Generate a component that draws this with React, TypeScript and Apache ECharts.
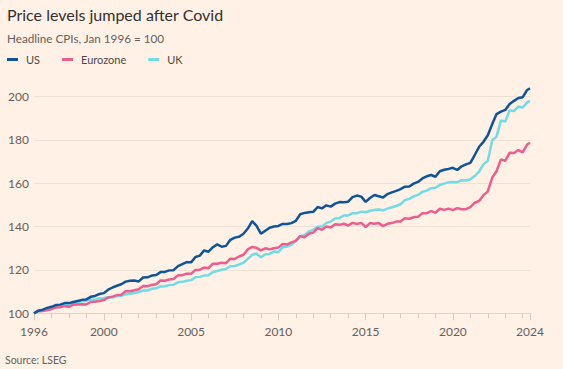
import React, { useEffect, useRef } from "react";
import * as echarts from "echarts";

// Quarterly observation months (Jan, Apr, Jul, Oct) from Jan 1996, plus the last month shown
const dates: string[] = [];
for (let y = 1996; y <= 2024; y++) {
  for (const m of [1, 4, 7, 10]) {
    if (y === 2024 && m > 4) break;
    dates.push(`${y}-${String(m).padStart(2, "0")}`);
  }
}
dates.push("2024-06");

// Headline CPI, Jan 1996 = 100
const us = [
  100.0, 101.2, 101.7, 102.5,
  103.0, 103.8, 104.0, 104.7,
  104.7, 105.2, 105.7, 106.2,
  106.4, 107.6, 108.0, 108.9,
  109.3, 110.9, 111.9, 112.7,
  113.4, 114.6, 115.0, 115.1,
  114.7, 116.5, 116.6, 117.4,
  117.7, 119.0, 119.1, 119.8,
  119.9, 121.8, 122.7, 123.6,
  123.5, 126.0, 126.6, 129.0,
  128.4, 130.5, 131.8, 130.7,
  131.1, 133.9, 134.9, 135.3,
  136.7, 139.1, 142.5, 140.3,
  136.7, 138.1, 139.5, 140.0,
  140.3, 141.2, 141.2, 141.6,
  142.6, 145.7, 146.3, 146.6,
  146.8, 149.0, 148.4, 149.8,
  149.2, 150.6, 151.3, 151.2,
  151.5, 153.6, 154.3, 153.8,
  151.4, 153.2, 154.6, 154.0,
  153.4, 155.0, 155.8, 156.5,
  157.3, 158.4, 158.5, 159.8,
  160.6, 162.2, 163.2, 163.8,
  163.0, 165.5, 166.2, 166.6,
  167.1, 166.1, 167.8, 168.7,
  169.4, 173.0, 176.8, 179.1,
  182.1, 187.2, 191.9, 193.0,
  193.8, 196.5, 198.0, 199.3,
  199.7, 203.0, 203.7,
];

const eurozone = [
  100.0, 101.1, 101.1, 101.5,
  101.9, 102.7, 102.8, 103.3,
  103.0, 104.0, 104.1, 104.2,
  104.1, 105.2, 105.3, 105.7,
  106.1, 107.3, 107.7, 108.4,
  108.6, 110.2, 110.2, 110.6,
  111.1, 112.6, 112.5, 113.1,
  113.4, 115.1, 115.0, 115.6,
  115.8, 117.5, 117.6, 118.3,
  118.2, 120.0, 120.1, 121.1,
  120.8, 122.9, 122.9, 123.3,
  123.1, 125.2, 125.1, 126.2,
  127.0, 129.5, 130.6, 130.2,
  129.0, 130.0, 129.5, 130.0,
  130.3, 132.0, 131.7, 132.7,
  133.4, 135.6, 135.1, 136.7,
  137.2, 139.3, 138.5, 140.0,
  139.6, 141.1, 140.8, 141.3,
  140.5, 141.7, 141.2, 141.7,
  139.8, 141.6, 141.3, 141.6,
  140.2, 141.3, 141.6, 142.3,
  142.3, 143.8, 143.6, 144.3,
  144.5, 146.1, 146.2, 147.1,
  146.4, 148.2, 147.7, 148.3,
  147.6, 148.5, 148.0, 148.0,
  149.0, 151.0, 151.8, 154.5,
  156.2, 162.5, 165.5, 171.0,
  170.3, 174.0, 173.9, 175.3,
  174.2, 177.8, 178.7,
];

const uk = [
  100.0, 100.9, 101.2, 101.8,
  102.2, 102.9, 103.3, 103.7,
  104.0, 104.9, 105.1, 105.6,
  105.7, 106.4, 106.3, 106.9,
  107.1, 107.4, 107.3, 107.9,
  108.1, 108.8, 109.0, 109.4,
  109.8, 110.5, 110.5, 111.3,
  111.5, 112.4, 112.5, 113.0,
  113.2, 114.3, 114.5, 115.0,
  115.3, 116.6, 116.8, 117.4,
  117.6, 119.0, 119.5, 120.1,
  120.5, 121.7, 121.8, 122.5,
  123.3, 125.1, 127.0, 127.6,
  125.8, 127.2, 127.4, 128.5,
  128.2, 130.5, 130.8, 131.6,
  133.4, 135.7, 136.0, 137.8,
  138.5, 139.9, 140.0, 141.7,
  142.3, 143.7, 143.9, 145.1,
  145.1, 146.2, 146.2, 146.9,
  146.6, 147.3, 147.6, 147.9,
  147.5, 148.3, 148.9, 149.5,
  150.3, 152.2, 152.8, 153.9,
  154.6, 156.0, 156.6, 157.7,
  157.9, 159.2, 159.8, 160.4,
  160.6, 160.5, 161.4, 161.2,
  161.8, 163.3, 165.4, 168.7,
  170.4, 179.7, 181.5, 188.9,
  188.5, 193.6, 193.3, 195.3,
  194.9, 197.3, 198.0,
];

const seriesNames = ["US", "Eurozone", "UK"];
const seriesColors = ["#0f5499", "#eb5e8d", "#70dce6"];
const yTicks = [100, 120, 140, 160, 180, 200];
const xLabelYears = [1996, 2000, 2005, 2010, 2015, 2020];
const lastLabel = "2024";

const FONT = "Lato, 'Noto Sans', sans-serif";
const toYear = (d: string) => {
  const [y, m] = d.split("-").map(Number);
  return y + (m - 1) / 12;
};

export default function App() {
  const ref = useRef<HTMLDivElement>(null);
  useEffect(() => {
    const chart = echarts.init(ref.current!, null, { renderer: "svg" });
    const xs = dates.map(toYear);
    const xMin = xs[0];
    const xMax = xs[xs.length - 1];
    const yearTicks: number[] = [];
    for (let y = 1996; y <= 2024; y++) yearTicks.push(y);
    yearTicks.push(xMax);
    const pairs = (vals: number[]) => xs.map((x, i) => [x, vals[i]]);
    const allVals = [us, eurozone, uk];

    chart.setOption({
      animation: false,
      backgroundColor: "#fff1e5",
      textStyle: { fontFamily: FONT },
      grid: { left: 34, right: 33, top: 96.5, bottom: 55.7 },
      legend: {
        data: seriesNames,
        left: 2,
        top: 49,
        icon: "rect",
        itemWidth: 11,
        itemHeight: 3,
        itemGap: 22,
        selectedMode: false,
        textStyle: { fontSize: 11, color: "#4e4946", fontFamily: FONT, padding: [0, 0, 0, 3] },
      },
      xAxis: [
        {
          type: "value",
          min: xMin,
          max: xMax,
          axisLine: { show: true, lineStyle: { color: "#e2d4c8", width: 1 } },
          axisTick: { show: true, customValues: yearTicks, length: 5, lineStyle: { color: "#d7c9bd" } },
          axisLabel: {
            customValues: [...xLabelYears, xMax],
            formatter: (v: number) => (v > 2024.05 ? lastLabel : String(Math.round(v))),
            color: "#66605c",
            fontSize: 12,
            margin: 12,
            fontFamily: FONT,
          },
          splitLine: { show: false },
        },
        {
          type: "value",
          min: xMin,
          max: xMax,
          position: "bottom",
          axisLine: { show: false },
          axisTick: { show: true, customValues: [...xLabelYears, xMax], length: 7, lineStyle: { color: "#d7c9bd" } },
          axisLabel: { show: false },
          splitLine: { show: false },
        },
      ],
      yAxis: {
        type: "value",
        min: yTicks[0],
        max: yTicks[yTicks.length - 1],
        interval: 20,
        axisLine: { show: false },
        axisTick: { show: false },
        axisLabel: { color: "#66605c", fontSize: 12, margin: 5, fontFamily: FONT },
        splitLine: { lineStyle: { color: "#efe1d5", width: 1 } },
      },
      series: seriesNames.map((name, i) => ({
        name,
        type: "line",
        xAxisIndex: 0,
        data: pairs(allVals[i]),
        showSymbol: false,
        symbol: "none",
        clip: false,
        color: seriesColors[i],
        lineStyle: { width: 2.5, color: seriesColors[i] },
        emphasis: { disabled: true },
        z: 3 - i,
      })),
      graphic: [
        {
          type: "text",
          x: 7,
          y: 14,
          style: {
            text: "Price levels jumped after Covid",
            font: `16px ${FONT}`,
            fill: "#33302e",
            verticalAlign: "middle",
          },
        },
        {
          type: "text",
          x: 7,
          y: 38,
          style: {
            text: "Headline CPIs, Jan 1996 = 100",
            font: `11.7px ${FONT}`,
            fill: "#66605c",
            verticalAlign: "middle",
          },
        },
        {
          type: "text",
          x: 5,
          y: 360,
          style: {
            text: "Source: LSEG",
            font: `10.5px ${FONT}`,
            fill: "#66605c",
            verticalAlign: "middle",
          },
        },
      ],
    });
    return () => chart.dispose();
  }, []);
  return (
    <div
      ref={ref}
      style={{ position: "fixed", left: 0, top: 0, width: 563, height: 369 }}
    />
  );
}
